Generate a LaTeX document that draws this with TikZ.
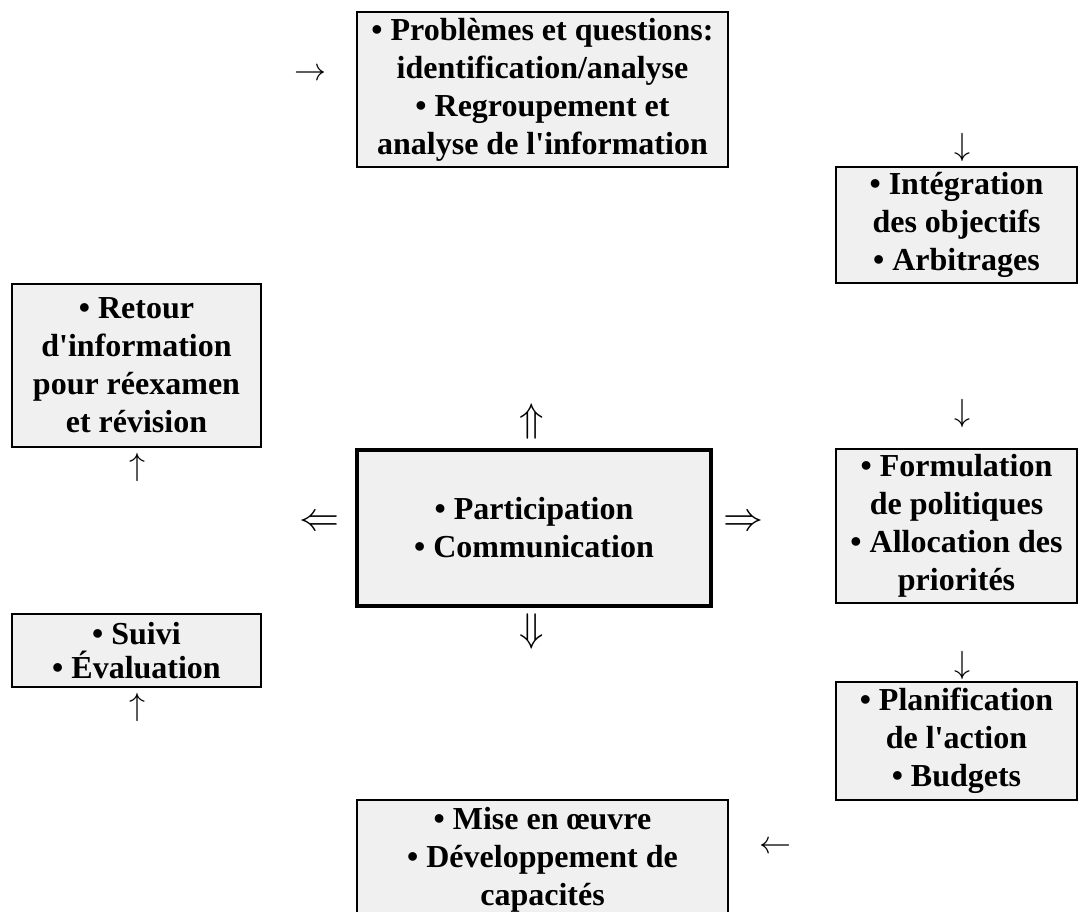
\RequirePackage{fix-cm}
\documentclass[tikz,border=0pt]{standalone}
\usepackage{fontspec}
\setmainfont{Liberation Serif}[Ligatures=TeXOff]
\definecolor{boxfill}{HTML}{F0F0F0}
\tikzset{
  stage/.style={draw=black, line width=2pt, fill=boxfill, rectangle, inner sep=0pt,
    align=center, font=\fontsize{32}{38}\selectfont\bfseries},
  hub/.style={stage, line width=3.5pt},
  sarrow/.style={inner sep=0pt, font=\fontsize{32}{32}\selectfont},
  darrow/.style={inner sep=0pt, font=\fontsize{40}{40}\selectfont}
}
\begin{document}
\begin{tikzpicture}[x=1pt,y=-1pt]
\useasboundingbox (0,0) rectangle (1079,912);
\node[stage, minimum width=371pt, minimum height=155pt] (P) at (542.5,89.5)
  {• Problèmes et questions:\\identification/analyse\\• Regroupement et\\analyse de l'information};
\node[stage, minimum width=241pt, minimum height=116pt] (I) at (956.5,225)
  {• Intégration\\des objectifs\\• Arbitrages};
\node[stage, minimum width=241pt, minimum height=154pt] (F) at (956.5,526)
  {• Formulation\\de politiques\\• Allocation des\\priorités};
\node[stage, minimum width=241pt, minimum height=118pt] (Pl) at (956.5,741)
  {• Planification\\de l'action\\• Budgets};
\node[stage, minimum width=371pt, minimum height=120pt] (M) at (542.5,860)
  {• Mise en œuvre\\• Développement de\\capacités};
\node[hub, minimum width=354pt, minimum height=156pt] (C) at (534,528)
  {• Participation\\• Communication};
\node[stage, minimum width=249pt, minimum height=163pt] (R) at (136.5,365.5)
  {• Retour\\d'information\\pour réexamen\\et révision};
\node[stage, minimum width=249pt, minimum height=73pt, font=\fontsize{32}{34}\selectfont\bfseries] (S) at (136.5,650.5)
  {• Suivi\\• Évaluation};
% single arrows
\node[sarrow] (a1) at (310,75) {$\rightarrow$};
\node[sarrow] (a2) at (962,148) {$\downarrow$};
\node[sarrow] (a3) at (962,413) {$\downarrow$};
\node[sarrow] (a4) at (962,665) {$\downarrow$};
\node[sarrow] (a5) at (775,848) {$\leftarrow$};
\node[sarrow] (a6) at (137,467) {$\uparrow$};
\node[sarrow] (a7) at (137,707) {$\uparrow$};
% double arrows
\node[darrow] (d1) at (532,421) {$\Uparrow$};
\node[darrow] (d2) at (532,631) {$\Downarrow$};
\node[darrow] (d3) at (319,523) {$\Leftarrow$};
\node[darrow] (d4) at (743,523) {$\Rightarrow$};
\end{tikzpicture}
\end{document}
